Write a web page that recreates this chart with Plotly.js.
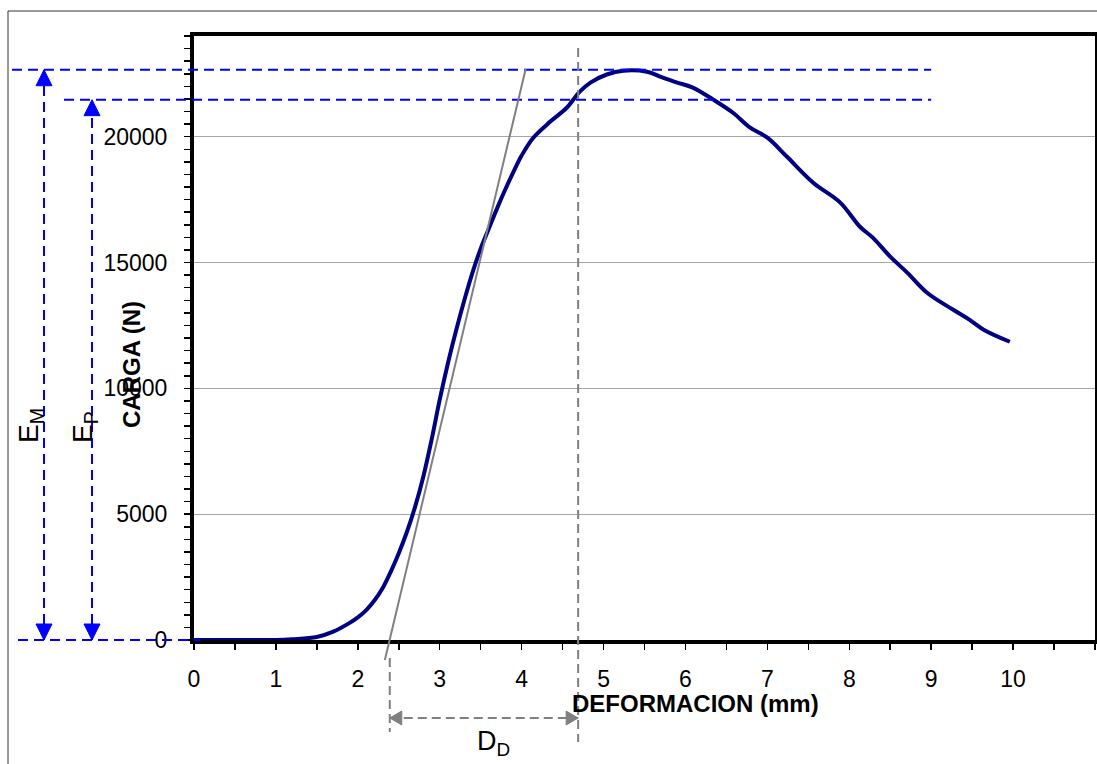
<!DOCTYPE html>
<html><head><meta charset="utf-8">
<script src="https://cdn.plot.ly/plotly-3.0.1.min.js"></script>
<style>html,body{margin:0;padding:0;background:#fff}</style>
</head><body>
<div id="chart" style="width:1097px;height:764px"></div>
<script>
// ---- data ----
const deformacion = [0, 0.5, 1.0, 1.2, 1.5, 1.7, 1.9, 2.0, 2.1, 2.2, 2.3, 2.4, 2.5, 2.6, 2.7, 2.8, 2.9, 3.0, 3.1, 3.2, 3.3, 3.4, 3.5, 3.6, 3.7, 3.8, 3.9, 4.0, 4.14, 4.35, 4.55, 4.71, 4.84, 5.04, 5.24, 5.53, 5.69, 5.90, 6.09, 6.34, 6.58, 6.79, 7.0, 7.24, 7.56, 7.89, 8.13, 8.29, 8.50, 8.71, 8.95, 9.27, 9.47, 9.64, 9.96];
const carga = [0, 0, 0, 30, 120, 330, 680, 900, 1180, 1560, 2050, 2700, 3450, 4300, 5300, 6500, 7950, 9550, 11000, 12300, 13500, 14600, 15550, 16350, 17150, 17900, 18600, 19250, 19950, 20600, 21150, 21790, 22150, 22470, 22620, 22580, 22390, 22150, 21950, 21470, 20950, 20360, 19960, 19200, 18170, 17380, 16420, 15980, 15230, 14590, 13800, 13120, 12720, 12330, 11850];
const cargaMaxima = 22660;        // level marked E_M
const cargaProporcional = 21470;  // level marked E_P
const tangenteX = [2.33, 4.05];
const tangenteY = [-795, 22700];
const deformacionInicio = 2.39;   // start of D_D
const deformacionFin = 4.69;      // end of D_D
const finLineasRef = 9;           // where the blue reference lines end
const xTickVals = [0,1,2,3,4,5,6,7,8,9,10,11];
const yTickVals = [0,5000,10000,15000,20000];
const yTickText = ['0','5000','10000','15000','20000'];
const xRange = [0, 11];
const yRange = [0, 24000];

// ---- layout geometry ----
const FIG_W = 1097, FIG_H = 764;
const M = {l:194, r:2, t:36, b:124};
const PW = FIG_W - M.l - M.r, PH = FIG_H - M.t - M.b;
const FONT = 'Liberation Sans, Arial, sans-serif';

// data -> paper
const dx = v => (v - xRange[0]) / (xRange[1] - xRange[0]);
const dy = v => (v - yRange[0]) / (yRange[1] - yRange[0]);
// pixel -> paper (for items placed outside the plot)
const px = p => (p - M.l) / PW;
const py = p => (FIG_H - M.b - p) / PH;

const BLUE = '#0000ff', GRAY = '#808080';
const shapes = [];
const annotations = [];

function line(x0,y0,x1,y1,color,width,dash){
  shapes.push({type:'line', xref:'paper', yref:'paper', x0, y0, x1, y1,
    line:{color, width, dash: dash || 'solid'}, layer:'above'});
}
// filled triangular arrow head; tip at paper (x,y)
function head(x, y, dir, color, len, half){
  const ux = 1 / PW, uy = 1 / PH;
  let pts;
  if (dir === 'up')    pts = [[x, y], [x - half*ux, y - len*uy], [x + half*ux, y - len*uy]];
  if (dir === 'down')  pts = [[x, y], [x - half*ux, y + len*uy], [x + half*ux, y + len*uy]];
  if (dir === 'left')  pts = [[x, y], [x + len*ux, y - half*uy], [x + len*ux, y + half*uy]];
  if (dir === 'right') pts = [[x, y], [x - len*ux, y - half*uy], [x - len*ux, y + half*uy]];
  const path = 'M' + pts.map(p => p[0] + ',' + p[1]).join('L') + 'Z';
  shapes.push({type:'path', xref:'paper', yref:'paper', path,
    fillcolor:color, line:{color, width:1}, layer:'above'});
}

// outer frame
shapes.push({type:'rect', xref:'paper', yref:'paper', x0:px(8), y0:py(11), x1:px(1200), y1:py(900),
  line:{color:'#333', width:1}, layer:'below'});

// blue reference lines
const bDash = '10px,6px';
line(px(12), dy(cargaMaxima), dx(finLineasRef), dy(cargaMaxima), BLUE, 2, bDash);
line(px(64), dy(cargaProporcional), dx(finLineasRef), dy(cargaProporcional), BLUE, 2, bDash);
line(px(18), dy(0), px(200), dy(0), BLUE, 2, bDash);
// E_M and E_P double arrows
line(px(44), dy(0), px(44), dy(cargaMaxima), BLUE, 2, bDash);
line(px(92), dy(0), px(92), dy(cargaProporcional), BLUE, 2, bDash);
head(px(44), dy(cargaMaxima), 'up', BLUE, 16, 8);
head(px(44), dy(0), 'down', BLUE, 16, 8);
head(px(92), dy(cargaProporcional), 'up', BLUE, 16, 8);
head(px(92), dy(0), 'down', BLUE, 16, 8);

// tangent line
line(dx(tangenteX[0]), dy(tangenteY[0]), dx(tangenteX[1]), dy(tangenteY[1]), GRAY, 2, 'solid');

// gray dashed lines and D_D arrow
const gDash = '9px,5px';
line(dx(deformacionFin), py(48), dx(deformacionFin), py(742), GRAY, 2, gDash);
line(dx(deformacionInicio), py(658), dx(deformacionInicio), py(732), GRAY, 2, gDash);
line(dx(deformacionInicio), py(718), dx(deformacionFin), py(718), GRAY, 2, gDash);
head(dx(deformacionInicio), py(718), 'left', GRAY, 12, 7);
head(dx(deformacionFin), py(718), 'right', GRAY, 12, 7);

// labels
function label(text, xPix, yPix, size, angle){
  annotations.push({xref:'paper', yref:'paper', x:px(xPix), y:py(yPix), text,
    showarrow:false, textangle:angle||0, xanchor:'center', yanchor:'middle',
    font:{family:FONT, size, color:'#000'}});
}
label('E<sub>M</sub>', 30, 426, 28, -90);
label('E<sub>P</sub>', 84, 427, 28, -90);
label('D<sub>D</sub>', 493, 743, 27, 0);
label('<b>CARGA (N)</b>', 131, 365, 24, -90);
label('<b>DEFORMACION (mm)</b>', 695, 703, 24, 0);

const trace = {
  x: deformacion, y: carga, type:'scatter', mode:'lines',
  line:{color:'#000080', width:4, shape:'spline', smoothing:1},
  hoverinfo:'skip'
};

const axisCommon = {
  showline:true, mirror:true, linecolor:'#000', linewidth:4,
  ticks:'outside', ticklen:6, tickwidth:1.5, tickcolor:'#000',
  tickfont:{family:FONT, size:23, color:'#000'},
  zeroline:false, fixedrange:true, layer:'below traces'
};

const layout = {
  width:FIG_W, height:FIG_H, margin:M,
  paper_bgcolor:'#fff', plot_bgcolor:'#fff',
  showlegend:false,
  font:{family:FONT},
  xaxis: Object.assign({}, axisCommon, {
    range:xRange, tickmode:'array', tickvals:xTickVals, showgrid:false,
    ticklabelstandoff:9,
    minor:{dtick:0.5, ticks:'outside', ticklen:6, tickwidth:1.5, tickcolor:'#000', showgrid:false}
  }),
  yaxis: Object.assign({}, axisCommon, {
    range:yRange, tickmode:'array', tickvals:yTickVals, ticktext:yTickText,
    showgrid:true, gridcolor:'#a6a6a6', gridwidth:1.2,
    ticklabelstandoff:12,
    minor:{dtick:500, ticks:'outside', ticklen:6, tickwidth:1.5, tickcolor:'#000', showgrid:false}
  }),
  shapes, annotations
};

Plotly.newPlot('chart', [trace], layout, {staticPlot:true, displayModeBar:false});
</script>
</body></html>
